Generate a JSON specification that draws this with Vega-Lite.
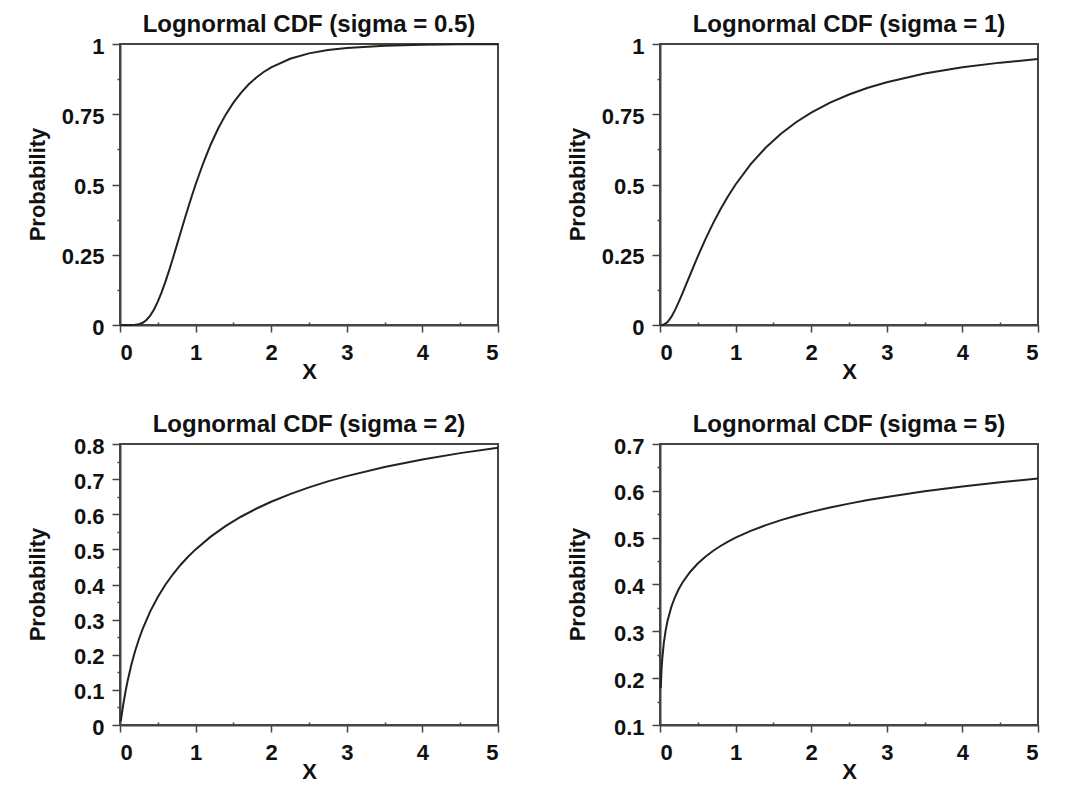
{
  "$schema": "https://vega.github.io/schema/vega-lite/v6.json",
  "background": "white",
  "padding": {"left": 24, "top": 12, "right": 10, "bottom": 10},
  "columns": 2,
  "spacing": {"row": 119, "column": 162},
  "bounds": "flush",
  "config": {
    "font": "Liberation Sans",
    "view": {"stroke": "#444", "strokeWidth": 2},
    "title": {"fontSize": 24, "fontWeight": "bold", "color": "#111", "offset": -2},
    "axis": {
      "domainColor": "#444", "domainWidth": 2, "tickColor": "#444", "tickWidth": 1.5,
      "grid": false, "labelFontSize": 22, "labelFontWeight": "bold", "labelColor": "#111",
      "titleFontSize": 22, "titleFontWeight": "bold", "titleColor": "#111"
    },
    "axisX": {"labelPadding": 10, "titlePadding": -2},
    "axisY": {"labelPadding": 8, "labelOffset": 2, "titleX": -71, "titleY": 140},
    "line": {"color": "#222", "strokeWidth": 2}
  },
  "datasets": {
    "d05": [
      {"x": 0.01, "p": 0}, {"x": 0.05, "p": 0}, {"x": 0.1, "p": 0.0}, {"x": 0.15, "p": 0.00007},
      {"x": 0.2, "p": 0.00064}, {"x": 0.25, "p": 0.0028}, {"x": 0.3, "p": 0.008}, {"x": 0.35, "p": 0.0179},
      {"x": 0.4, "p": 0.0334}, {"x": 0.45, "p": 0.0551}, {"x": 0.5, "p": 0.0829}, {"x": 0.55, "p": 0.1159},
      {"x": 0.6, "p": 0.1534}, {"x": 0.65, "p": 0.1945}, {"x": 0.7, "p": 0.2378}, {"x": 0.75, "p": 0.2825},
      {"x": 0.8, "p": 0.3277}, {"x": 0.85, "p": 0.3726}, {"x": 0.9, "p": 0.4165}, {"x": 0.95, "p": 0.4591},
      {"x": 1.0, "p": 0.5}, {"x": 1.1, "p": 0.5756}, {"x": 1.2, "p": 0.6424}, {"x": 1.3, "p": 0.7001},
      {"x": 1.4, "p": 0.7495}, {"x": 1.5, "p": 0.7913}, {"x": 1.6, "p": 0.8264}, {"x": 1.7, "p": 0.8557},
      {"x": 1.8, "p": 0.8801}, {"x": 1.9, "p": 0.9004}, {"x": 2.0, "p": 0.9171}, {"x": 2.25, "p": 0.9476},
      {"x": 2.5, "p": 0.9666}, {"x": 2.75, "p": 0.9785}, {"x": 3.0, "p": 0.986}, {"x": 3.5, "p": 0.9939},
      {"x": 4.0, "p": 0.9972}, {"x": 4.5, "p": 0.9987}, {"x": 5.0, "p": 0.9994}
    ],
    "d1": [
      {"x": 0.01, "p": 0.0}, {"x": 0.02, "p": 0.00005}, {"x": 0.05, "p": 0.0014}, {"x": 0.1, "p": 0.0107},
      {"x": 0.15, "p": 0.0289}, {"x": 0.2, "p": 0.0538}, {"x": 0.25, "p": 0.0829}, {"x": 0.3, "p": 0.1143},
      {"x": 0.35, "p": 0.1469}, {"x": 0.4, "p": 0.1797}, {"x": 0.45, "p": 0.2123}, {"x": 0.5, "p": 0.2441},
      {"x": 0.6, "p": 0.3047}, {"x": 0.7, "p": 0.3607}, {"x": 0.8, "p": 0.4117}, {"x": 0.9, "p": 0.458},
      {"x": 1.0, "p": 0.5}, {"x": 1.2, "p": 0.5723}, {"x": 1.4, "p": 0.6318}, {"x": 1.6, "p": 0.6808},
      {"x": 1.8, "p": 0.7217}, {"x": 2.0, "p": 0.7559}, {"x": 2.25, "p": 0.7913}, {"x": 2.5, "p": 0.8203},
      {"x": 2.75, "p": 0.8442}, {"x": 3.0, "p": 0.864}, {"x": 3.5, "p": 0.8949}, {"x": 4.0, "p": 0.9171},
      {"x": 4.5, "p": 0.9337}, {"x": 5.0, "p": 0.9462}
    ],
    "d2": [
      {"x": 0.01, "p": 0.0107}, {"x": 0.02, "p": 0.0252}, {"x": 0.03, "p": 0.0398}, {"x": 0.05, "p": 0.0671},
      {"x": 0.075, "p": 0.0976}, {"x": 0.1, "p": 0.1248}, {"x": 0.15, "p": 0.1714}, {"x": 0.2, "p": 0.2105},
      {"x": 0.25, "p": 0.2441}, {"x": 0.3, "p": 0.2736}, {"x": 0.4, "p": 0.3235}, {"x": 0.5, "p": 0.3645},
      {"x": 0.6, "p": 0.3992}, {"x": 0.7, "p": 0.4292}, {"x": 0.8, "p": 0.4556}, {"x": 0.9, "p": 0.479},
      {"x": 1.0, "p": 0.5}, {"x": 1.2, "p": 0.5363}, {"x": 1.4, "p": 0.5668}, {"x": 1.6, "p": 0.5929},
      {"x": 1.8, "p": 0.6156}, {"x": 2.0, "p": 0.6355}, {"x": 2.25, "p": 0.6574}, {"x": 2.5, "p": 0.6766},
      {"x": 2.75, "p": 0.6935}, {"x": 3.0, "p": 0.7086}, {"x": 3.5, "p": 0.7345}, {"x": 4.0, "p": 0.7559},
      {"x": 4.5, "p": 0.774}, {"x": 5.0, "p": 0.7895}
    ],
    "d5": [
      {"x": 0.01, "p": 0.1785}, {"x": 0.02, "p": 0.217}, {"x": 0.03, "p": 0.2416}, {"x": 0.05, "p": 0.2746},
      {"x": 0.075, "p": 0.3022}, {"x": 0.1, "p": 0.3226}, {"x": 0.15, "p": 0.3522}, {"x": 0.2, "p": 0.3738},
      {"x": 0.25, "p": 0.3908}, {"x": 0.3, "p": 0.4049}, {"x": 0.4, "p": 0.4273}, {"x": 0.5, "p": 0.4449},
      {"x": 0.6, "p": 0.4593}, {"x": 0.7, "p": 0.4716}, {"x": 0.8, "p": 0.4822}, {"x": 0.9, "p": 0.4916},
      {"x": 1.0, "p": 0.5}, {"x": 1.2, "p": 0.5146}, {"x": 1.4, "p": 0.5268}, {"x": 1.6, "p": 0.5374},
      {"x": 1.8, "p": 0.5468}, {"x": 2.0, "p": 0.5551}, {"x": 2.25, "p": 0.5644}, {"x": 2.5, "p": 0.5727},
      {"x": 2.75, "p": 0.5802}, {"x": 3.0, "p": 0.587}, {"x": 3.5, "p": 0.5989}, {"x": 4.0, "p": 0.6092},
      {"x": 4.5, "p": 0.6182}, {"x": 5.0, "p": 0.6262}
    ]
  },
  "concat": [
    {
      "width": 378, "height": 281,
      "title": "Lognormal CDF (sigma = 0.5)",
      "data": {"name": "d05"},
      "mark": {"type": "line"},
      "encoding": {
        "x": {"field": "x", "type": "quantitative", "scale": {"domain": [0, 5], "nice": false}, "title": "X",
          "axis": {"values": [0, 0.5, 1, 1.5, 2, 2.5, 3, 3.5, 4, 4.5, 5], "labelExpr": "datum.value % 1 == 0 ? format(datum.value, 'd') : ''",
            "tickSize": {"condition": {"test": "datum.value % 1 != 0", "value": -3}, "value": 7}}},
        "y": {"field": "p", "type": "quantitative", "scale": {"domain": [0, 1], "nice": false}, "title": "Probability",
          "axis": {"values": [0, 0.125, 0.25, 0.375, 0.5, 0.625, 0.75, 0.875, 1], "labelExpr": "datum.value % 0.25 == 0 ? format(datum.value, '~g') : ''",
            "tickSize": {"condition": {"test": "datum.value % 0.25 != 0", "value": 3}, "value": 8}}}
      }
    },
    {
      "width": 378, "height": 281,
      "title": "Lognormal CDF (sigma = 1)",
      "data": {"name": "d1"},
      "mark": {"type": "line"},
      "encoding": {
        "x": {"field": "x", "type": "quantitative", "scale": {"domain": [0, 5], "nice": false}, "title": "X",
          "axis": {"values": [0, 0.5, 1, 1.5, 2, 2.5, 3, 3.5, 4, 4.5, 5], "labelExpr": "datum.value % 1 == 0 ? format(datum.value, 'd') : ''",
            "tickSize": {"condition": {"test": "datum.value % 1 != 0", "value": -3}, "value": 7}}},
        "y": {"field": "p", "type": "quantitative", "scale": {"domain": [0, 1], "nice": false}, "title": "Probability",
          "axis": {"values": [0, 0.125, 0.25, 0.375, 0.5, 0.625, 0.75, 0.875, 1], "labelExpr": "datum.value % 0.25 == 0 ? format(datum.value, '~g') : ''",
            "tickSize": {"condition": {"test": "datum.value % 0.25 != 0", "value": 3}, "value": 8}}}
      }
    },
    {
      "width": 378, "height": 281,
      "title": "Lognormal CDF (sigma = 2)",
      "data": {"name": "d2"},
      "mark": {"type": "line"},
      "encoding": {
        "x": {"field": "x", "type": "quantitative", "scale": {"domain": [0, 5], "nice": false}, "title": "X",
          "axis": {"values": [0, 0.5, 1, 1.5, 2, 2.5, 3, 3.5, 4, 4.5, 5], "labelExpr": "datum.value % 1 == 0 ? format(datum.value, 'd') : ''",
            "tickSize": {"condition": {"test": "datum.value % 1 != 0", "value": -3}, "value": 7}}},
        "y": {"field": "p", "type": "quantitative", "scale": {"domain": [0, 0.8], "nice": false}, "title": "Probability",
          "axis": {"values": [0, 0.05, 0.1, 0.15, 0.2, 0.25, 0.3, 0.35, 0.4, 0.45, 0.5, 0.55, 0.6, 0.65, 0.7, 0.75, 0.8],
            "labelExpr": "abs(datum.value * 10 - round(datum.value * 10)) < 0.001 ? format(datum.value, '~g') : ''",
            "tickSize": {"condition": {"test": "abs(datum.value * 10 - round(datum.value * 10)) > 0.001", "value": 3}, "value": 8}}}
      }
    },
    {
      "width": 378, "height": 281,
      "title": "Lognormal CDF (sigma = 5)",
      "data": {"name": "d5"},
      "mark": {"type": "line"},
      "encoding": {
        "x": {"field": "x", "type": "quantitative", "scale": {"domain": [0, 5], "nice": false}, "title": "X",
          "axis": {"values": [0, 0.5, 1, 1.5, 2, 2.5, 3, 3.5, 4, 4.5, 5], "labelExpr": "datum.value % 1 == 0 ? format(datum.value, 'd') : ''",
            "tickSize": {"condition": {"test": "datum.value % 1 != 0", "value": -3}, "value": 7}}},
        "y": {"field": "p", "type": "quantitative", "scale": {"domain": [0.1, 0.7], "nice": false, "zero": false}, "title": "Probability",
          "axis": {"values": [0.1, 0.15, 0.2, 0.25, 0.3, 0.35, 0.4, 0.45, 0.5, 0.55, 0.6, 0.65, 0.7],
            "labelExpr": "abs(datum.value * 10 - round(datum.value * 10)) < 0.001 ? format(datum.value, '~g') : ''",
            "tickSize": {"condition": {"test": "abs(datum.value * 10 - round(datum.value * 10)) > 0.001", "value": 3}, "value": 8}}}
      }
    }
  ]
}
